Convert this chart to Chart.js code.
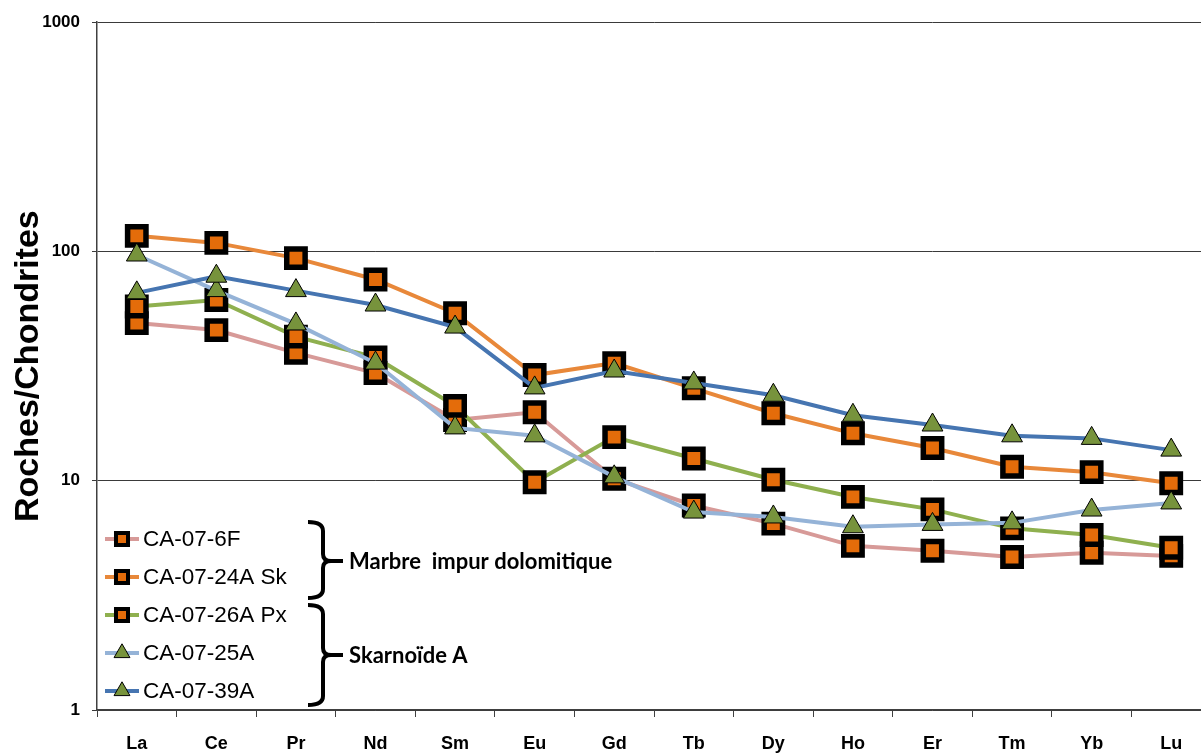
<!DOCTYPE html>
<html lang="fr">
<head>
    <meta charset="UTF-8">
    <title>Roches/Chondrites</title>
    <script src="https://cdn.jsdelivr.net/npm/chart.js"></script>
    <style>
        html, body { margin: 0; padding: 0; background: #fff; overflow: hidden; }
        #reeChart { position: absolute; left: 0; top: 0; }
    </style>
</head>
<body>
    <canvas id="reeChart" width="1211" height="753"></canvas>

    <script>
        // Data (normalised to chondrite)
        const elements = ['La', 'Ce', 'Pr', 'Nd', 'Sm', 'Eu', 'Gd', 'Tb', 'Dy', 'Ho', 'Er', 'Tm', 'Yb', 'Lu'];
        const yTicks = [1, 10, 100, 1000];

        const ca07_6F    = [48.7, 45.4, 36.1, 29.5, 18.4, 19.9, 10.2, 7.8, 6.5, 5.2, 4.95, 4.65, 4.85, 4.7];
        const ca07_24ASk = [117, 109, 93.5, 75.5, 53.8, 28.9, 32.6, 25.3, 19.7, 16.1, 13.9, 11.5, 10.9, 9.75];
        const ca07_26APx = [57.5, 61.4, 42.5, 34.5, 21.2, 9.85, 15.5, 12.5, 10.1, 8.5, 7.5, 6.2, 5.8, 5.1];
        const ca07_25A   = [96.5, 67.5, 48.3, 32.6, 17, 15.7, 10.4, 7.3, 6.95, 6.3, 6.45, 6.55, 7.45, 8.0];
        const ca07_39A   = [66, 78, 67.5, 58.4, 46.8, 25.4, 30.1, 26.7, 23.6, 19.3, 17.5, 15.7, 15.3, 13.6];

        const labels = ['CA-07-6F', 'CA-07-24A Sk', 'CA-07-26A Px', 'CA-07-25A', 'CA-07-39A'];
        const series = [ca07_6F, ca07_24ASk, ca07_26APx, ca07_25A, ca07_39A];
        const lineColors = ['#d79a98', '#e8883a', '#8fb04f', '#95b3d7', '#4675b1'];
        const markers = ['rect', 'rect', 'rect', 'triangle', 'triangle'];

        const groups = [
            { text: 'Marbre  impur dolomitique', top: 522, bottom: 598, tip: 561 },
            { text: 'Skarnoïde A', top: 605, bottom: 705, tip: 655 }
        ];

        const ORANGE = '#e46c0a';
        const GREEN = '#77933c';

        const datasets = series.map((vals, i) => {
            const isRect = markers[i] === 'rect';
            return {
                label: labels[i],
                data: vals,
                borderColor: lineColors[i],
                borderWidth: 4,
                tension: 0,
                pointStyle: markers[i],
                pointRadius: isRect ? 13 : 12,
                pointHoverRadius: isRect ? 13 : 12,
                pointBackgroundColor: isRect ? ORANGE : GREEN,
                pointBorderColor: '#000',
                pointBorderWidth: isRect ? 5.5 : 1,
                order: series.length - 1 - i
            };
        });

        // legend in the lower left corner + the two braces with their notes
        const sidePlugin = {
            id: 'sideNotes',
            afterDraw(chart) {
                const ctx = chart.ctx;
                ctx.save();
                // legend
                const rowY = [539, 577, 615, 653, 691];
                datasets.forEach((ds, i) => {
                    const y = rowY[i];
                    ctx.strokeStyle = ds.borderColor;
                    ctx.lineWidth = 4;
                    ctx.beginPath();
                    ctx.moveTo(105, y);
                    ctx.lineTo(139, y);
                    ctx.stroke();
                    const isRect = markers[i] === 'rect';
                    ctx.fillStyle = ds.pointBackgroundColor;
                    ctx.strokeStyle = '#000';
                    ctx.lineWidth = isRect ? 4 : 1;
                    Chart.helpers.drawPoint(ctx, {
                        pointStyle: markers[i],
                        radius: isRect ? 8.5 : 9.2,
                        rotation: 0,
                        borderWidth: isRect ? 4 : 1
                    }, 122, y);
                    ctx.fillStyle = '#000';
                    ctx.font = '22.5px "Liberation Sans", Arial, sans-serif';
                    ctx.textBaseline = 'middle';
                    ctx.textAlign = 'left';
                    ctx.fillText(ds.label, 143, y + 1);
                });

                // braces
                ctx.strokeStyle = '#000';
                ctx.lineWidth = 4;
                const xl = 308, xv = 323, xt = 343;
                groups.forEach(g => {
                    ctx.beginPath();
                    ctx.moveTo(xl, g.top);
                    ctx.quadraticCurveTo(xv, g.top, xv, g.top + 9);
                    ctx.lineTo(xv, g.tip - 7);
                    ctx.quadraticCurveTo(xv, g.tip, xv + 8, g.tip);
                    ctx.lineTo(xt, g.tip);
                    ctx.moveTo(xv + 8, g.tip);
                    ctx.quadraticCurveTo(xv, g.tip, xv, g.tip + 7);
                    ctx.lineTo(xv, g.bottom - 9);
                    ctx.quadraticCurveTo(xv, g.bottom, xl, g.bottom);
                    ctx.stroke();

                    ctx.fillStyle = '#000';
                    ctx.font = 'bold 22px Lato, "Open Sans", sans-serif';
                    ctx.textBaseline = 'middle';
                    ctx.textAlign = 'left';
                    ctx.fillText(g.text, 349, g.tip + 1);
                });
                ctx.restore();
            }
        };

        const ctx = document.getElementById('reeChart').getContext('2d');
        new Chart(ctx, {
            type: 'line',
            data: { labels: elements, datasets: datasets },
            options: {
                responsive: false,
                animation: false,
                events: [],
                layout: {
                    autoPadding: false,
                    padding: { top: 22, left: 0, right: 0, bottom: 0 }
                },
                plugins: {
                    legend: { display: false },
                    tooltip: { enabled: false }
                },
                scales: {
                    x: {
                        type: 'category',
                        offset: true,
                        grid: {
                            offset: true,
                            drawOnChartArea: false,
                            drawTicks: true,
                            tickLength: 7,
                            color: '#404040'
                        },
                        border: { color: '#404040', width: 1.5 },
                        ticks: {
                            color: '#000',
                            padding: 16,
                            maxRotation: 0,
                            font: { family: '"Liberation Sans", Arial, sans-serif', size: 18, weight: 'bold' }
                        },
                        afterFit(scale) {
                            scale.height = 43;
                            scale.paddingLeft = 0;
                            scale.paddingRight = 0;
                        }
                    },
                    y: {
                        type: 'logarithmic',
                        min: 1,
                        max: 1000,
                        afterBuildTicks(axis) {
                            axis.ticks = yTicks.map(v => ({ value: v }));
                        },
                        grid: {
                            color: '#3a3a3a',
                            lineWidth: 1,
                            drawTicks: true,
                            tickLength: 5
                        },
                        border: { color: '#404040', width: 1.5 },
                        ticks: {
                            color: '#000',
                            padding: 12,
                            font: { family: '"Liberation Sans", Arial, sans-serif', size: 17, weight: 'bold' },
                            callback: v => String(v)
                        },
                        title: {
                            display: true,
                            text: 'Roches/Chondrites',
                            color: '#000',
                            padding: { top: 8, bottom: 0 },
                            font: { family: '"Liberation Sans", Arial, sans-serif', size: 34, weight: 'bold' }
                        },
                        afterFit(scale) { scale.width = 97; }
                    }
                }
            },
            plugins: [sidePlugin]
        });
    </script>
</body>
</html>
